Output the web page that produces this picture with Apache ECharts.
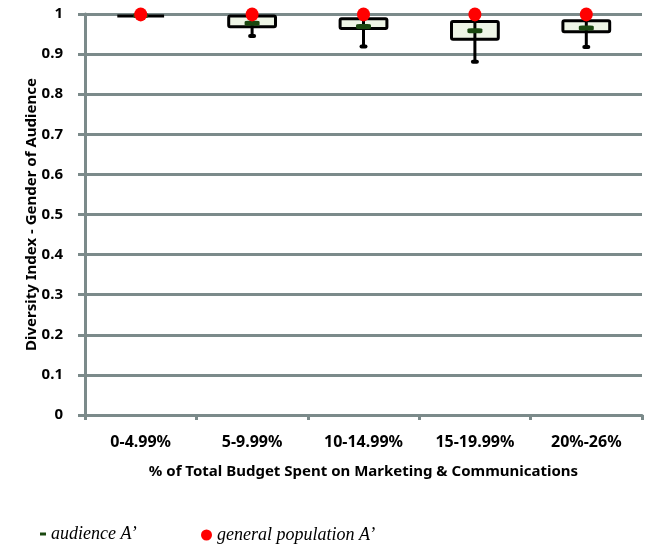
<!DOCTYPE html>
<html>
<head>
<meta charset="utf-8">
<script src="https://cdn.jsdelivr.net/npm/echarts@6/dist/echarts.min.js"></script>
<style>
  html, body { margin: 0; padding: 0; background: #ffffff; }
  #chart { width: 650px; height: 546px; }
</style>
</head>
<body>
<div id="chart"></div>
<script>
// Budget share bands on the horizontal axis
const categories = ['0-4.99%', '5-9.99%', '10-14.99%', '15-19.99%', '20%-26%'];

// Box-and-whisker summary of the audience gender diversity index
const whiskerLow  = [0.995, 0.945, 0.919, 0.881, 0.918];
const quartile1   = [0.995, 0.968, 0.964, 0.937, 0.956];
const quartile3   = [0.995, 0.995, 0.988, 0.981, 0.983];
const whiskerHigh = [1.000, 1.000, 1.000, 1.000, 1.000];

// Point markers
const audienceA   = [0.996, 0.977, 0.969, 0.958, 0.965];
const generalPopA = [0.999, 0.999, 0.999, 0.999, 0.999];

const AXIS_GREY = '#7b8a8a';
const LABEL_FONT = '"Noto Sans", "Open Sans", sans-serif';
const LEGEND_FONT = '"Liberation Serif", "DejaVu Serif", serif';

const boxData = categories.map((c, i) => [i, whiskerLow[i], quartile1[i], quartile3[i], whiskerHigh[i]]);

function renderBox(params, api) {
  const idx = api.value(0);
  const pLow = api.coord([idx, api.value(1)]);
  const pQ1 = api.coord([idx, api.value(2)]);
  const pQ3 = api.coord([idx, api.value(3)]);
  const pHigh = api.coord([idx, api.value(4)]);
  const cx = pLow[0];
  const w = api.size([1, 0])[0] * 0.42;
  return {
    type: 'group',
    children: [
      {
        type: 'rect',
        shape: { x: cx - w / 2, y: pQ3[1], width: w, height: pQ1[1] - pQ3[1], r: 1.5 },
        style: { fill: '#eef5e6', stroke: '#000000', lineWidth: 3 }
      },
      {
        type: 'line',
        shape: { x1: cx, y1: pHigh[1], x2: cx, y2: pLow[1] },
        style: { stroke: '#000000', lineWidth: 3 }
      },
      {
        type: 'rect',
        shape: { x: cx - 4, y: pLow[1] - 2, width: 8, height: 4, r: 2 },
        style: { fill: '#000000' }
      }
    ]
  };
}

const chart = echarts.init(document.getElementById('chart'), null, { renderer: 'canvas' });

chart.setOption({
  animation: false,
  backgroundColor: '#ffffff',
  grid: { left: 85, right: 8, top: 14, bottom: 131 },
  legend: [
    {
      data: [{ name: 'audience A’', icon: 'rect' }],
      left: 35, top: 520,
      itemWidth: 6, itemHeight: 3,
      textStyle: { fontFamily: LEGEND_FONT, fontStyle: 'italic', fontSize: 18, color: '#000000' }
    },
    {
      data: [{ name: 'general population A’', icon: 'circle' }],
      left: 196, top: 521,
      itemWidth: 11, itemHeight: 11,
      textStyle: { fontFamily: LEGEND_FONT, fontStyle: 'italic', fontSize: 18, color: '#000000' }
    }
  ],
  xAxis: {
    type: 'category',
    data: categories,
    boundaryGap: true,
    name: '% of Total Budget Spent on Marketing & Communications',
    nameLocation: 'middle',
    nameGap: 49,
    nameTextStyle: { fontFamily: LABEL_FONT, fontWeight: 'bold', fontSize: 15, color: '#000000' },
    axisLine: { show: true, lineStyle: { color: AXIS_GREY, width: 3 } },
    axisTick: { show: true, length: 5, lineStyle: { color: AXIS_GREY, width: 3 } },
    axisLabel: { margin: 19, fontFamily: LABEL_FONT, fontWeight: 'bold', fontSize: 16, color: '#000000' },
    splitLine: { show: false }
  },
  yAxis: {
    type: 'value',
    min: 0,
    max: 1,
    interval: 0.1,
    name: 'Diversity Index - Gender of Audience',
    nameLocation: 'middle',
    nameGap: 46,
    nameMoveOverlap: false,
    nameTextStyle: { fontFamily: LABEL_FONT, fontWeight: 'bold', fontSize: 15, color: '#000000' },
    axisLine: { show: true, lineStyle: { color: AXIS_GREY, width: 3 } },
    axisTick: { show: true, length: 7, lineStyle: { color: AXIS_GREY, width: 3 } },
    axisLabel: { margin: 22, fontFamily: LABEL_FONT, fontWeight: 'bold', fontSize: 15, color: '#000000' },
    splitLine: { show: true, lineStyle: { color: AXIS_GREY, width: 3 } }
  },
  series: [
    {
      name: 'box',
      type: 'custom',
      renderItem: renderBox,
      data: boxData,
      encode: { x: 0, y: [1, 2, 3, 4] },
      z: 2
    },
    {
      name: 'audience A’',
      type: 'scatter',
      data: audienceA.map((v, i) => [i, v]),
      symbol: 'roundRect',
      symbolSize: [15, 5],
      itemStyle: { color: '#1a4810', opacity: 1 },
      z: 3
    },
    {
      name: 'general population A’',
      type: 'scatter',
      data: generalPopA.map((v, i) => [i, v]),
      symbol: 'circle',
      symbolSize: [13, 14],
      itemStyle: { color: '#ff0000', opacity: 1 },
      z: 4
    }
  ]
});
</script>
</body>
</html>
